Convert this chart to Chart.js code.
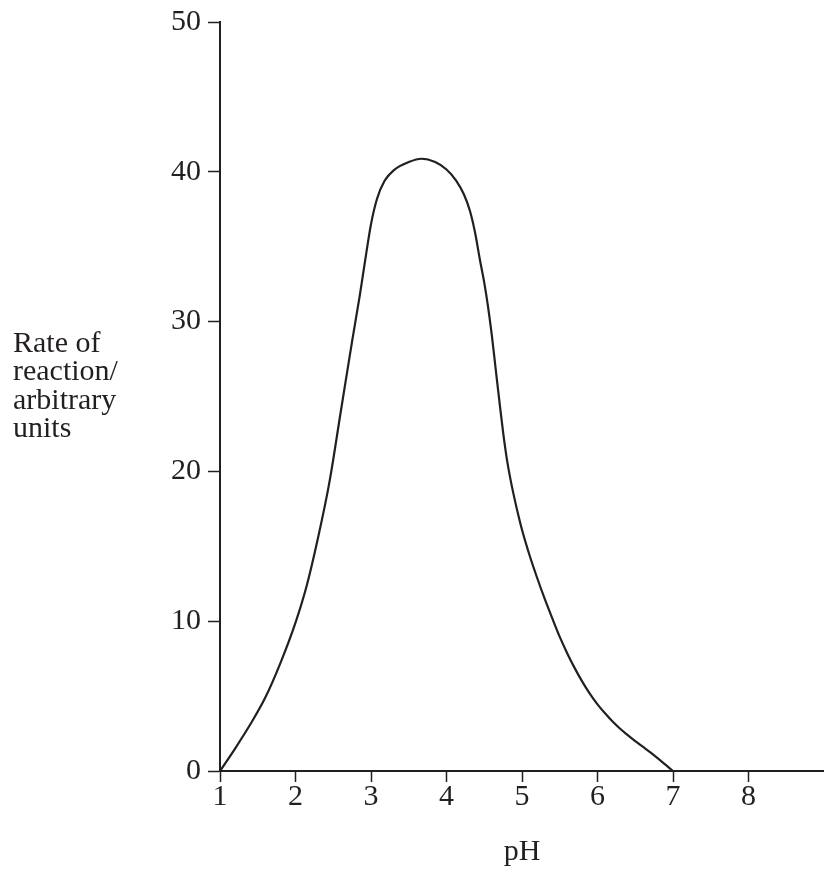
<!DOCTYPE html>
<html>
<head>
<meta charset="utf-8">
<script src="https://cdn.jsdelivr.net/npm/chart.js@4/dist/chart.umd.min.js"></script>
<style>
  html, body { margin: 0; padding: 0; background: #ffffff; }
  #wrap { position: relative; width: 824px; height: 876px; }
</style>
</head>
<body>
<div id="wrap"><canvas id="c" width="824" height="876"></canvas></div>
<script>
// ---- data ----
const phValues   = [1.0, 1.2, 1.4, 1.6, 1.8, 2.0, 2.15, 2.3, 2.45, 2.6, 2.75, 2.85, 2.92, 3.0, 3.08, 3.18, 3.3, 3.5, 3.67, 3.85, 4.0, 4.13, 4.23, 4.31, 4.38, 4.44, 4.5, 4.55, 4.6, 4.65, 4.7, 4.75, 4.8, 4.85, 4.9, 4.95, 5.0, 5.1, 5.2, 5.3, 5.4, 5.5, 5.6, 5.7, 5.8, 5.9, 6.0, 6.1, 6.2, 6.3, 6.4, 6.5, 6.6, 6.7, 6.8, 6.9, 7.0];
const rateValues = [0, 1.5, 3.1, 4.9, 7.2, 9.9, 12.4, 15.6, 19.3, 24.0, 28.7, 31.7, 34.0, 36.5, 38.2, 39.4, 40.1, 40.65, 40.87, 40.65, 40.15, 39.4, 38.5, 37.4, 35.9, 34.2, 32.6, 31.0, 29.1, 26.9, 24.7, 22.6, 20.8, 19.4, 18.2, 17.1, 16.1, 14.4, 12.9, 11.5, 10.2, 8.95, 7.85, 6.85, 5.95, 5.15, 4.45, 3.85, 3.3, 2.82, 2.4, 2.0, 1.62, 1.24, 0.84, 0.42, 0];
const xTickValues = [1, 2, 3, 4, 5, 6, 7, 8];
const yTickValues = [0, 10, 20, 30, 40, 50];
const yTitleLines = ['Rate of', 'reaction/', 'arbitrary', 'units'];
const xTitle = 'pH';

const INK = '#231f20';
const FONT = "'Liberation Serif', 'Times New Roman', serif";

const points = phValues.map((x, i) => ({ x: x, y: rateValues[i] }));

const yTitlePlugin = {
  id: 'yTitle',
  afterDraw(chart) {
    const ctx = chart.ctx;
    ctx.save();
    ctx.fillStyle = INK;
    ctx.font = "30px " + FONT;
    ctx.textAlign = 'left';
    ctx.textBaseline = 'alphabetic';
    const base = [352, 380, 409, 437];
    yTitleLines.forEach((t, i) => ctx.fillText(t, 13, base[i]));
    ctx.restore();
  }
};

new Chart(document.getElementById('c'), {
  type: 'line',
  data: {
    datasets: [{
      data: points,
      borderColor: INK,
      borderWidth: 2.2,
      pointRadius: 0,
      fill: false,
      cubicInterpolationMode: 'monotone',
      clip: false
    }]
  },
  options: {
    responsive: false,
    animation: false,
    events: [],
    layout: { padding: { top: 21, right: 0, bottom: 0, left: 0 } },
    plugins: { legend: { display: false }, tooltip: { enabled: false } },
    scales: {
      x: {
        type: 'linear',
        min: 1,
        max: 9,
        afterBuildTicks(scale) { scale.ticks = xTickValues.map(v => ({ value: v })); },
        afterFit(scale) { scale.height = 105; },
        ticks: {
          color: INK,
          font: { family: FONT, size: 30, lineHeight: 1 },
          padding: 0,
          maxRotation: 0,
          autoSkip: false,
          callback: (v) => String(v)
        },
        grid: { drawOnChartArea: false, drawTicks: true, tickLength: 11, tickColor: INK, tickWidth: 1.5 },
        border: { display: true, color: INK, width: 2 },
        title: {
          display: true,
          text: xTitle,
          color: INK,
          font: { family: FONT, size: 30, lineHeight: 1 },
          padding: { top: 0, bottom: 9 }
        }
      },
      y: {
        type: 'linear',
        min: 0,
        max: 50,
        afterBuildTicks(scale) { scale.ticks = yTickValues.map(v => ({ value: v })); },
        afterFit(scale) { scale.width = 220; },
        ticks: {
          color: INK,
          font: { family: FONT, size: 30, lineHeight: 1 },
          padding: 7,
          autoSkip: false,
          callback: (v) => String(v)
        },
        grid: { drawOnChartArea: false, drawTicks: true, tickLength: 12, tickColor: INK, tickWidth: 1.5 },
        border: { display: true, color: INK, width: 2 }
      }
    }
  },
  plugins: [yTitlePlugin]
});
</script>
</body>
</html>
